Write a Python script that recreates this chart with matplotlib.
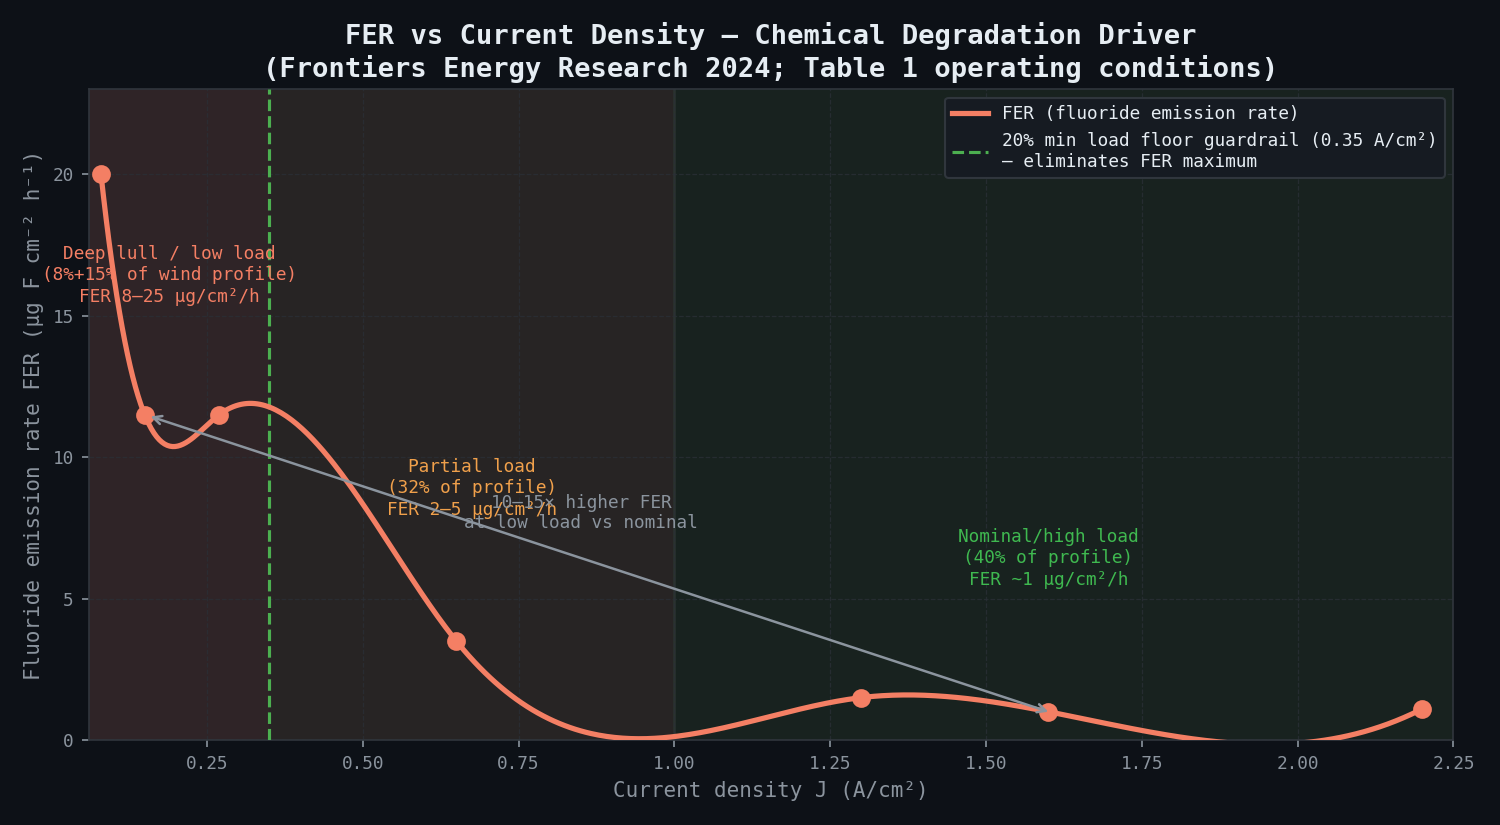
import numpy as np
import matplotlib
matplotlib.use("Agg")
from matplotlib import pyplot as plt

# operating points
J = [0.08, 0.15, 0.27, 0.65, 1.30, 1.60, 2.20]
FER = [20.0, 11.5, 11.5, 3.5, 1.5, 1.0, 1.1]
GUARD_J = 0.35
REGIONS = [(0.0, 0.35), (0.35, 1.0), (1.0, 2.3)]
REGION_LABELS = [
    "Deep lull / low load\n(8%+15% of wind profile)\nFER 8\u201325 \u00b5g/cm\u00b2/h",
    "Partial load\n(32% of profile)\nFER 2\u20135 \u00b5g/cm\u00b2/h",
    "Nominal/high load\n(40% of profile)\nFER ~1 \u00b5g/cm\u00b2/h",
]
REGION_LABEL_Y = [16.42, 8.9, 6.42]

BG = "#0d1117"
GREY = "#8b949e"
LINE = "#f47f64"
GREEN = "#3fb950"


def notaknot_spline(x, y, xs):
    # piecewise cubic, C2, not-a-knot ends (like make_interp_spline k=3)
    x = np.asarray(x, float)
    y = np.asarray(y, float)
    n = len(x)
    m = n - 1
    h = np.diff(x)
    A = np.zeros((4 * m, 4 * m))
    b = np.zeros(4 * m)
    r = 0
    for i in range(m):
        A[r, 4 * i] = 1
        b[r] = y[i]
        r += 1
        A[r, 4 * i:4 * i + 4] = [1, h[i], h[i] ** 2, h[i] ** 3]
        b[r] = y[i + 1]
        r += 1
    for i in range(m - 1):
        A[r, 4 * i:4 * i + 4] = [0, 1, 2 * h[i], 3 * h[i] ** 2]
        A[r, 4 * (i + 1) + 1] = -1
        r += 1
        A[r, 4 * i:4 * i + 4] = [0, 0, 2, 6 * h[i]]
        A[r, 4 * (i + 1) + 2] = -2
        r += 1
    A[r, 3] = 1
    A[r, 7] = -1
    r += 1
    A[r, 4 * (m - 2) + 3] = 1
    A[r, 4 * (m - 1) + 3] = -1
    c = np.linalg.solve(A, b)
    out = np.empty_like(xs)
    for k, xv in enumerate(xs):
        i = min(max(np.searchsorted(x, xv) - 1, 0), m - 1)
        t = xv - x[i]
        a0, a1, a2, a3 = c[4 * i:4 * i + 4]
        out[k] = a0 + a1 * t + a2 * t ** 2 + a3 * t ** 3
    return out


plt.rcParams['font.family'] = ['DejaVu Sans Mono']

fig = plt.figure(figsize=(10, 5.5), dpi=150, facecolor=BG)
ax = fig.add_subplot(111)
ax.set_facecolor(BG)
fig.subplots_adjust(left=0.059, right=0.969, top=0.892, bottom=0.103)

span_colors = ["#2f2427", "#272424", "#18221f"]
for (a, b), col in zip(REGIONS, span_colors):
    ax.axvspan(a, b, color=col, lw=0, zorder=0)
ax.axvline(1.0, color="#2a332f", lw=1.2, zorder=0.5)

ax.grid(True, color="#2a2f36", ls="--", lw=0.6, alpha=0.8, zorder=1)

xs = np.linspace(min(J), max(J), 500)
ax.plot(xs, notaknot_spline(J, FER, xs), color=LINE, lw=2.5, zorder=4,
        label="FER (fluoride emission rate)")
ax.plot(J, FER, "o", color=LINE, ms=8, zorder=5)

ax.axvline(GUARD_J, color="#4caf50", ls="--", lw=1.5, zorder=3,
           label="20% min load floor guardrail (0.35 A/cm\u00b2)\n\u2014 eliminates FER maximum")

label_colors = ["#f47f64", "#f0a04b", GREEN]
for (a, b), yv, txt, col in zip(REGIONS, REGION_LABEL_Y, REGION_LABELS, label_colors):
    xc = (max(a, 0.03) + min(b, 2.2)) / 2
    ax.text(xc, yv, txt, color=col, fontsize=8.5, ha="center", va="center",
            zorder=6, linespacing=1.25)

ax.annotate("", xy=(J[1], FER[1]), xytext=(J[5], FER[5]),
            arrowprops=dict(arrowstyle="<->", color=GREY, lw=1.2,
                            shrinkA=0, shrinkB=3), zorder=6)
ax.text(0.85, 8.02, "10\u201315\u00d7 higher FER\nat low load vs nominal",
        color=GREY, fontsize=8.5, ha="center", va="center", zorder=6)

ax.set_xlim(0.06, 2.25)
ax.set_ylim(0, 23)
ax.set_xticks([0.25, 0.5, 0.75, 1.0, 1.25, 1.5, 1.75, 2.0, 2.25])
ax.set_yticks([0, 5, 10, 15, 20])

ax.set_xlabel("Current density J (A/cm\u00b2)", color=GREY, fontsize=10)
ax.set_ylabel("Fluoride emission rate FER (\u00b5g F cm\u207b\u00b2 h\u207b\u00b9)",
              color=GREY, fontsize=10)
ax.set_title("FER vs Current Density \u2014 Chemical Degradation Driver\n"
             "(Frontiers Energy Research 2024; Table 1 operating conditions)",
             color="#e6edf3", fontsize=13, fontweight="bold")
ax.tick_params(colors=GREY, labelsize=8.5)
for s in ax.spines.values():
    s.set_color("#30363d")

leg = ax.legend(loc="upper right", fontsize=8.5, facecolor="#161b22",
                edgecolor="#30363d", framealpha=1.0)
for t in leg.get_texts():
    t.set_color("#e6edf3")

fig.savefig("out.png", dpi=150, facecolor=BG)
